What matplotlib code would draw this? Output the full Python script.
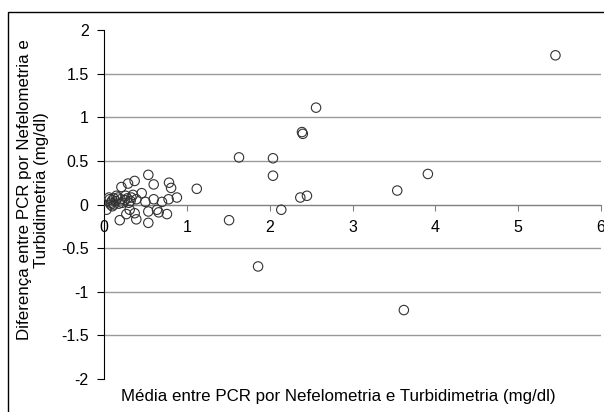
import matplotlib.pyplot as plt
from matplotlib.patches import Rectangle

plt.rcParams['font.family'] = ['Liberation Sans', 'DejaVu Sans']

# média (x) e diferença (y) entre os dois métodos
media = [5.45, 3.91, 3.54, 3.62, 2.56, 2.39, 2.40, 2.04, 1.63, 2.04, 2.37, 2.45,
         2.14, 1.51, 1.86, 1.12,
         0.535, 0.60, 0.37, 0.29, 0.21, 0.785, 0.81, 0.455, 0.35, 0.88, 0.78,
         0.60, 0.70, 0.50, 0.39, 0.03, 0.07, 0.64, 0.66, 0.76, 0.535, 0.37,
         0.27, 0.31, 0.19, 0.39, 0.535,
         0.08, 0.10, 0.12, 0.10, 0.14, 0.17, 0.20, 0.22, 0.25, 0.28, 0.30,
         0.32, 0.15, 0.12, 0.06, 0.08, 0.18, 0.26, 0.33]
diferenca = [1.71, 0.35, 0.16, -1.21, 1.11, 0.83, 0.81, 0.53, 0.54, 0.33, 0.08, 0.10,
             -0.06, -0.18, -0.71, 0.18,
             0.34, 0.23, 0.27, 0.24, 0.20, 0.25, 0.19, 0.13, 0.11, 0.08, 0.06,
             0.06, 0.03, 0.03, 0.06, -0.06, 0.06, -0.06, -0.09, -0.11, -0.08, -0.10,
             -0.11, -0.06, -0.18, -0.17, -0.21,
             0.02, 0.05, 0.00, -0.02, 0.04, 0.08, 0.06, 0.02, 0.05, 0.07, 0.02,
             0.04, 0.10, 0.07, 0.08, 0.00, 0.01, 0.10, 0.08]

xticks = [0, 1, 2, 3, 4, 5, 6]
yticks = [-2, -1.5, -1, -0.5, 0, 0.5, 1, 1.5, 2]
ytick_labels = ['-2', '-1.5', '-1', '-0.5', '0', '0.5', '1', '1.5', '2']

fig = plt.figure(figsize=(6.04, 4.12), dpi=100)
ax = fig.add_axes([104/604, 1 - 379/412, 497/604, 349/412])

for v in yticks[1:-1]:
    ax.axhline(v, color='#9a9a9a', lw=1, zorder=0)

ax.scatter(media, diferenca, s=46, facecolors='none', edgecolors='#333333',
           linewidths=0.8, zorder=3)

ax.set_xlim(0, 6)
ax.set_ylim(-2, 2)
ax.set_xticks(xticks)
ax.set_xticklabels([str(t) for t in xticks])
ax.set_yticks(yticks)
ax.set_yticklabels(ytick_labels)

ax.spines['top'].set_visible(False)
ax.spines['right'].set_visible(False)
ax.spines['bottom'].set_position(('data', 0))
ax.spines['bottom'].set_color('#808080')
ax.spines['left'].set_color('black')
ax.tick_params(axis='x', direction='out', length=4, color='#808080',
               labelsize=11.5, pad=7)
ax.tick_params(axis='y', direction='out', length=5, labelsize=11.5, pad=6)

fig.text(338/604, 1 - 397/412, 'Média entre PCR por Nefelometria e Turbidimetria (mg/dl)',
         ha='center', va='center', fontsize=12.2)
fig.text(33/604, 1 - 190/412, 'Diferença entre PCR por Nefelometria e\nTurbidimetria (mg/dl)',
         ha='center', va='center', rotation=90, fontsize=12.2, linespacing=1.2)

fig.patches.append(Rectangle((8/604, -10/412), 610/604, 410/412, transform=fig.transFigure,
                             fill=False, edgecolor='black', lw=1))

fig.savefig('out.png', dpi=100)
